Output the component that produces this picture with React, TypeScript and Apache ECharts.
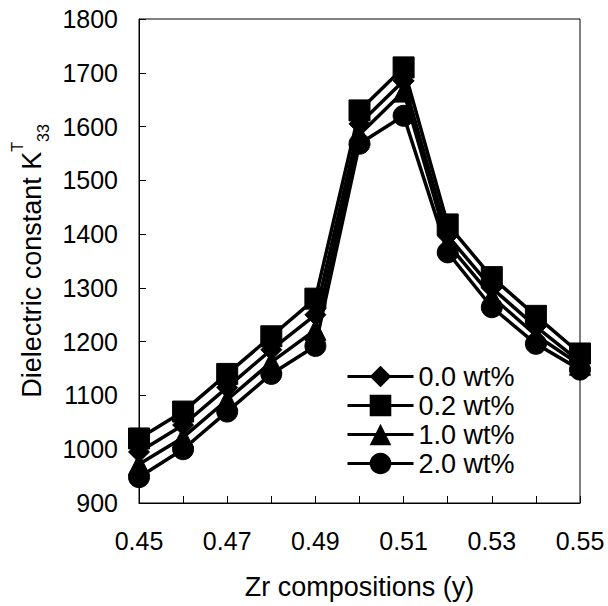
import React, { useEffect, useRef } from "react";
import * as echarts from "echarts";

const xValues = [0.45, 0.46, 0.47, 0.48, 0.49, 0.5, 0.51, 0.52, 0.53, 0.54, 0.55];
const seriesNames = ["0.0 wt%", "0.2 wt%", "1.0 wt%", "2.0 wt%"];
const seriesSymbols = ["diamond", "rect", "triangle", "circle"];
const wt00 = [995, 1045, 1115, 1185, 1250, 1605, 1685, 1397, 1300, 1228, 1163];
const wt02 = [1020, 1070, 1140, 1210, 1280, 1630, 1710, 1418, 1320, 1248, 1178];
const wt10 = [972, 1022, 1092, 1162, 1222, 1585, 1665, 1382, 1284, 1212, 1157];
const wt20 = [948, 1000, 1070, 1140, 1192, 1568, 1620, 1366, 1264, 1196, 1148];
const seriesValues = [wt00, wt02, wt10, wt20];

const FONT = "'Liberation Sans', Arial, sans-serif";

export default function App() {
  const ref = useRef<HTMLDivElement>(null);
  useEffect(() => {
    document.body.style.margin = "0";
    if (!ref.current) return;
    const chart = echarts.init(ref.current, undefined, { renderer: "svg" });
    chart.setOption({
      animation: false,
      backgroundColor: "#fff",
      textStyle: { fontFamily: FONT, color: "#000" },
      grid: {
        left: 139,
        right: 28,
        top: 19,
        bottom: 103,
        containLabel: false,
        outerBoundsMode: "none",
        show: true,
        borderColor: "#000",
        borderWidth: 1,
      },
      legend: {
        orient: "vertical",
        left: 346,
        top: 363,
        padding: 0,
        itemWidth: 66,
        itemHeight: 27,
        itemGap: 2,
        lineStyle: { width: 3, color: "#000" },
        itemStyle: { color: "#000" },
        textStyle: { fontSize: 27, color: "#000", fontFamily: FONT },
        data: seriesNames,
      },
      xAxis: {
        type: "value",
        min: 0.45,
        max: 0.55,
        interval: 0.01,
        name: "Zr compositions (y)",
        nameLocation: "middle",
        nameGap: 70,
        nameTextStyle: { fontSize: 27, color: "#000", fontFamily: FONT },
        axisLine: { show: true, lineStyle: { color: "#000", width: 1 } },
        axisTick: { show: true, inside: true, length: 7, lineStyle: { color: "#000" } },
        splitLine: { show: false },
        axisLabel: {
          fontSize: 25,
          color: "#000",
          margin: 25,
          fontFamily: FONT,
          formatter: (v: number) => {
            const n = Math.round(v * 100);
            return (n - 45) % 2 === 0 ? (n / 100).toFixed(2) : "";
          },
        },
      },
      yAxis: {
        type: "value",
        min: 900,
        max: 1800,
        interval: 100,
        name: "{m|Dielectric constant K}{sup|T}{sub|33}",
        nameLocation: "middle",
        nameGap: 57,
        nameRotate: 90,
        nameTextStyle: {
          fontSize: 27,
          color: "#000",
          fontFamily: FONT,
          rich: {
            m: { fontSize: 27, fontFamily: FONT, color: "#000", verticalAlign: "bottom", lineHeight: 36 },
            sup: { fontSize: 16, fontFamily: FONT, color: "#000", verticalAlign: "top", lineHeight: 36 },
            sub: { fontSize: 16, fontFamily: FONT, color: "#000", verticalAlign: "bottom", lineHeight: 36, padding: [0, 0, -6, 0] },
          },
        },
        axisLine: { show: true, lineStyle: { color: "#000", width: 1 } },
        axisTick: { show: true, inside: true, length: 7, lineStyle: { color: "#000" } },
        splitLine: { show: false },
        axisLabel: {
          fontSize: 25,
          color: "#000",
          margin: 21,
          fontFamily: FONT,
          formatter: (v: number) => String(v),
        },
      },
      series: seriesNames.map((name, i) => ({
        name,
        type: "line",
        symbol: seriesSymbols[i],
        symbolSize: 21,
        data: xValues.map((x, j) => [x, seriesValues[i][j]]),
        lineStyle: { color: "#000", width: 3.5 },
        itemStyle: { color: "#000", borderColor: "#000" },
        z: i === 1 ? 5 : 3,
      })),
    });
    return () => chart.dispose();
  }, []);
  return <div ref={ref} style={{ width: 608, height: 606 }} />;
}
